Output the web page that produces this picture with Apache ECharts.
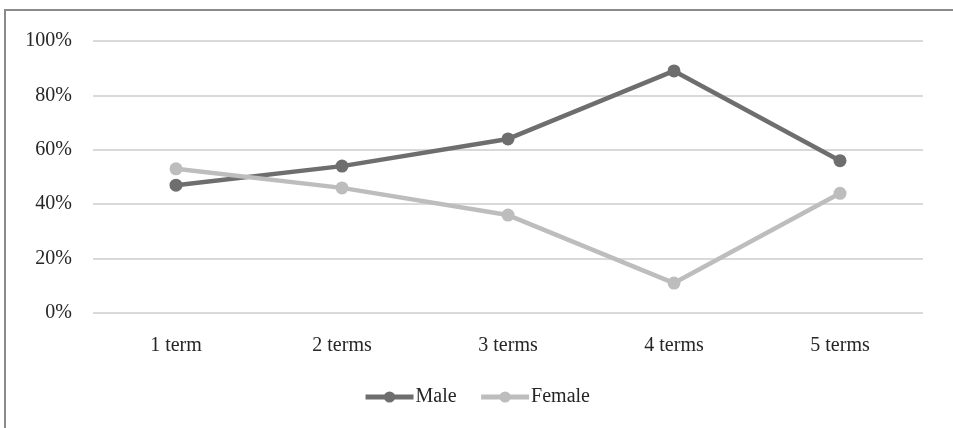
<!DOCTYPE html>
<html>
<head>
<meta charset="utf-8">
<script src="https://cdn.jsdelivr.net/npm/echarts@6/dist/echarts.min.js"></script>
<style>
html,body{margin:0;padding:0;background:#fff;}
#wrap{position:relative;width:953px;height:428px;overflow:hidden;}
#frame{position:absolute;left:4px;top:9px;width:960px;height:430px;border-left:2px solid #8a8a8a;border-top:2px solid #8a8a8a;box-sizing:border-box;}
#chart{position:absolute;left:0;top:0;width:953px;height:428px;}
</style>
</head>
<body>
<div id="wrap">
<div id="frame"></div>
<div id="chart"></div>
</div>
<script>
const categories = ['1 term', '2 terms', '3 terms', '4 terms', '5 terms'];
const maleValues = [47, 54, 64, 89, 56];
const femaleValues = [53, 46, 36, 11, 44];
const yTicks = [0, 20, 40, 60, 80, 100];

const font = '"Liberation Serif", "DejaVu Serif", serif';
const chart = echarts.init(document.getElementById('chart'), null, {renderer: 'canvas'});
chart.setOption({
  animation: false,
  backgroundColor: 'transparent',
  textStyle: {fontFamily: font},
  grid: {left: 93, right: 30, top: 41, bottom: 115, containLabel: false},
  legend: {
    bottom: 16,
    left: 'center',
    itemWidth: 48,
    itemHeight: 14,
    itemGap: 22,
    lineStyle: {width: 5},
    textStyle: {fontFamily: font, fontSize: 20, color: '#262626', padding: [0, 0, 0, -3]},
    data: ['Male', 'Female']
  },
  xAxis: {
    type: 'category',
    data: categories,
    boundaryGap: true,
    axisLine: {show: false},
    axisTick: {show: false},
    axisLabel: {fontFamily: font, fontSize: 20, color: '#262626', margin: 23}
  },
  yAxis: {
    type: 'value',
    min: yTicks[0],
    max: yTicks[yTicks.length - 1],
    interval: 20,
    axisLine: {show: false},
    axisTick: {show: false},
    axisLabel: {fontFamily: font, fontSize: 20, color: '#262626', margin: 21, formatter: '{value}%'},
    splitLine: {lineStyle: {color: '#d9d9d9', width: 2}}
  },
  series: [
    {
      name: 'Male',
      type: 'line',
      data: maleValues,
      symbol: 'circle',
      symbolSize: 13,
      lineStyle: {color: '#6e6e6e', width: 4.5},
      itemStyle: {color: '#6e6e6e'}
    },
    {
      name: 'Female',
      type: 'line',
      data: femaleValues,
      symbol: 'circle',
      symbolSize: 13,
      lineStyle: {color: '#bdbdbd', width: 4.5},
      itemStyle: {color: '#bdbdbd'}
    }
  ]
});
</script>
</body>
</html>
